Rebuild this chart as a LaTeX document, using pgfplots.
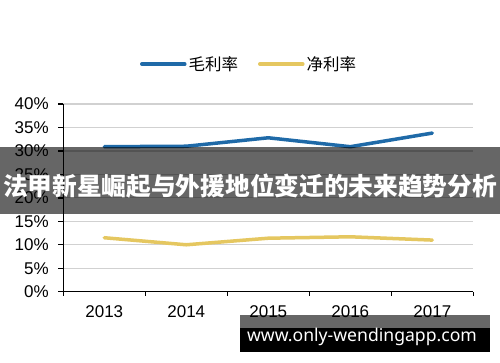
\documentclass[border=0pt]{standalone}
\usepackage{fontspec}
\setmainfont{Liberation Sans}
\newfontfamily\cjk{Noto Sans CJK SC}
\newfontfamily\wm{Noto Sans}
\usepackage{pgfplots}
\pgfplotsset{compat=1.18}
\definecolor{bl}{HTML}{1F6AA8}
\definecolor{yl}{HTML}{E5C760}
\begin{document}
\begin{tikzpicture}
\useasboundingbox (0,0) rectangle (500pt,362pt);
\fill[white] (0,0) rectangle (500pt,362pt);
\begin{axis}[
  at={(63.3pt,70.3pt)}, anchor=south west,
  scale only axis, width=410pt, height=187.7pt,
  xmin=-0.5, xmax=4.5, ymin=0, ymax=40,
  axis x line*=bottom, axis y line*=left,
  axis line style={line width=1.3pt, black, -},
  xtick={0,1,2,3,4}, xticklabels={2013,2014,2015,2016,2017},
  minor xtick={-0.5,0.5,1.5,2.5,3.5,4.5},
  major x tick style={draw=none},
  minor x tick style={line width=1.3pt, black},
  minor tick length=4pt,
  ytick={0,5,...,40},
  y tick style={line width=1.3pt, black},
  major tick length=5pt,
  tick align=outside,
  ymajorgrids,
  major grid style={line width=1.2pt, black!18},
  /pgf/number format/assume math mode=true,
  ticklabel style={font=\fontsize{17}{17}\selectfont},
  yticklabel={\pgfmathprintnumber{\tick}\%},
  yticklabel style={xshift=-6pt},
  xticklabel style={yshift=-5pt},
  legend style={at={(0.453,1.213)}, anchor=center, draw=none, fill=none,
    legend columns=2, font=\cjk\fontsize{16.5}{16.5}\selectfont,
    nodes={inner sep=2pt},
    /tikz/every even column/.append style={column sep=18pt}},
  legend image code/.code={\draw[#1, line width=3.5pt, line cap=round] (0pt,0pt) -- (43pt,0pt);},
  clip=false,
]
\addplot[bl, line width=3.5pt, line join=round, line cap=round] coordinates {(0,30.9)(1,31.0)(2,32.8)(3,30.9)(4,33.8)};
\addlegendentry{毛利率}
\addplot[yl, line width=3.5pt, line join=round, line cap=round] coordinates {(0,11.5)(1,10.0)(2,11.4)(3,11.7)(4,11.0)};
\addlegendentry{净利率}
\end{axis}
\fill[black, opacity=0.6] (0,148pt) rectangle (500pt,215pt);
\node[white, font=\cjk\bfseries\fontsize{24.7}{25}\selectfont, inner sep=0pt] at (250pt,176pt) {法甲新星崛起与外援地位变迁的未来趋势分析};
\fill[black, opacity=0.6] (240pt,34pt) rectangle (490pt,47pt);
\fill[black] (240pt,10pt) rectangle (490pt,34pt);
\node[white, font=\wm\bfseries\fontsize{17.6}{17.6}\selectfont, inner sep=0pt] at (362pt,25pt) {www.only-wendingapp.com};
\end{tikzpicture}
\end{document}
